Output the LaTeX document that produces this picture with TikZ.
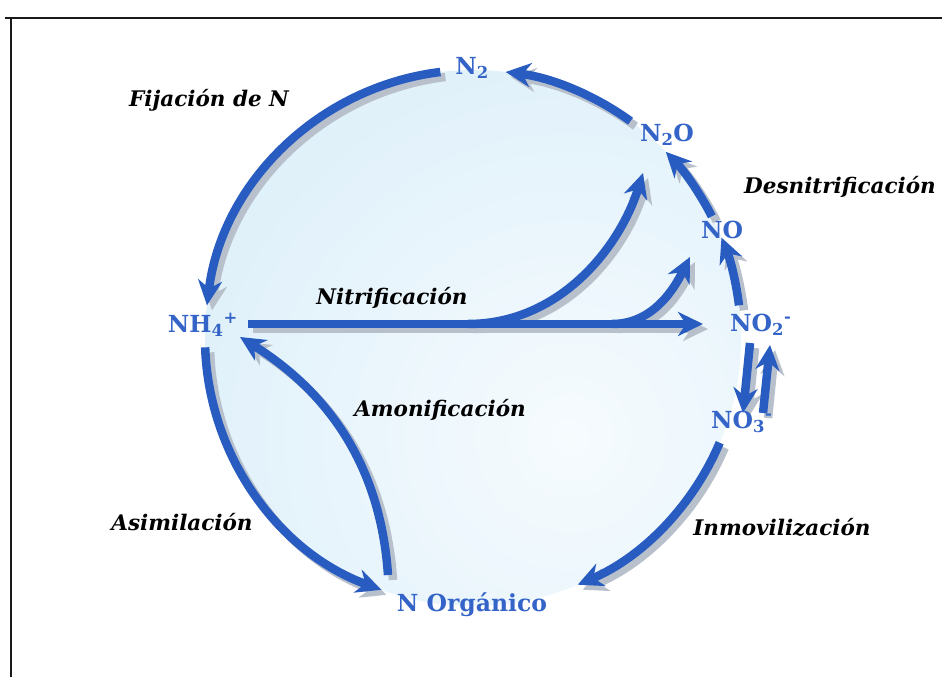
\documentclass[tikz,border=0pt]{standalone}
\usepackage{fontspec}
\setmainfont{DejaVu Serif}
\usetikzlibrary{arrows.meta}
\definecolor{arrblue}{RGB}{40,92,192}
\definecolor{txtblue}{RGB}{52,100,200}
\definecolor{shadowgray}{RGB}{184,192,204}
\definecolor{disklight}{RGB}{246,251,254}
\definecolor{diskedge}{RGB}{200,230,246}
\newcommand\cyclearc[3]{%
  \draw[shad] ([shift={(5,-5)}]#1) arc[start angle=#2,end angle=#3,radius=268];
  \draw[flow] (#1) arc[start angle=#2,end angle=#3,radius=268];}
\begin{document}
\begin{tikzpicture}[x=1pt,y=1pt,
  flow/.style={line width=8.5pt, draw=arrblue, -{Stealth[length=25pt,width=24pt,inset=8pt]}},
  shad/.style={line width=8.5pt, draw=shadowgray, -{Stealth[length=25pt,width=24pt,inset=8pt]}},
  chem/.style={text=txtblue, font=\fontsize{23.5}{26}\selectfont\bfseries, inner sep=1pt},
  proc/.style={text=black, font=\fontsize{21.5}{24}\selectfont\bfseries\itshape, inner sep=1pt},
  frame/.style={line width=2.8pt, draw=black!90}]
\useasboundingbox (0,0) rectangle (942,677);
\fill[white] (0,0) rectangle (942,677);
% frame
\draw[frame] (5,659) -- (942,659);
\draw[frame] (11,659) -- (11,0);
% disk
\coordinate (C) at (473,339);
\begin{scope}
  \clip (C) circle (268);
  \shade[inner color=disklight, outer color=diskedge] (570,240) circle (800);
\end{scope}
% arc coordinates
\coordinate (a1) at ([shift={(54:268)}]C);
\coordinate (a2) at ([shift={(97:268)}]C);
\coordinate (a3) at ([shift={(182:268)}]C);
\coordinate (a4) at ([shift={(337:268)}]C);
\coordinate (a5) at ([shift={(7:268)}]C);
\coordinate (a6) at ([shift={(27:268)}]C);
% cycle arcs
\cyclearc{a1}{54}{83}
\cyclearc{a2}{97}{173}
\cyclearc{a3}{182}{250}
\cyclearc{a4}{337}{293}
\cyclearc{a5}{7}{22}
\cyclearc{a6}{27}{44}
% nitrification
\coordinate (nitS) at (248,353);
\coordinate (nitE) at (703,353);
\coordinate (b1s) at (468,353);
\coordinate (b1e) at (643,504);
\coordinate (b2s) at (612,353);
\coordinate (b2e) at (690,420);
\draw[shad] ([shift={(5,-5)}]nitS) -- ([shift={(5,-5)}]nitE);
\draw[shad] ([shift={(5,-5)}]b1s) .. controls ([shift={(5,-5)}]560,353) and ([shift={(5,-5)}]620,430) .. ([shift={(5,-5)}]b1e);
\draw[shad] ([shift={(5,-5)}]b2s) .. controls ([shift={(5,-5)}]655,353) and ([shift={(5,-5)}]676,392) .. ([shift={(5,-5)}]b2e);
\draw[flow] (nitS) -- (nitE);
\draw[flow] (b1s) .. controls (560,353) and (620,430) .. (b1e);
\draw[flow] (b2s) .. controls (655,353) and (676,392) .. (b2e);
% ammonification
\coordinate (amS) at (388,102);
\coordinate (amE) at (240,340);
\draw[shad] ([shift={(5,-5)}]amS) .. controls ([shift={(5,-5)}]380,220) and ([shift={(5,-5)}]320,290) .. ([shift={(5,-5)}]amE);
\draw[flow] (amS) .. controls (380,220) and (320,290) .. (amE);
% NO2 <-> NO3
\coordinate (d1s) at (750,334);
\coordinate (d1e) at (743,264);
\coordinate (u1s) at (763,264);
\coordinate (u1e) at (770,332);
\draw[shad] ([shift={(5,-5)}]d1s) -- ([shift={(5,-5)}]d1e);
\draw[shad] ([shift={(5,-5)}]u1s) -- ([shift={(5,-5)}]u1e);
\draw[flow] (d1s) -- (d1e);
\draw[flow] (u1s) -- (u1e);
% chemical nodes
\node[chem] (n2) at (472,609) {N\textsubscript{2}};
\node[chem] (n2o) at (667,542) {N\textsubscript{2}O};
\node[chem] (no) at (722,447) {NO};
\node[chem, anchor=west] (no2) at (729,352) {NO\textsubscript{2}\textsuperscript{-}};
\node[chem, anchor=west] (no3) at (710,255) {NO\textsubscript{3}\textsuperscript{-}};
\node[chem, anchor=east] (nh4) at (239,352) {NH\textsubscript{4}\textsuperscript{+}};
\node[chem] (norg) at (472,72) {N Orgánico};
% process labels
\node[proc] (fij) at (209,577) {Fijación de N};
\node[proc] (des) at (840,490) {Desnitrificación};
\node[proc] (nit) at (392,379) {Nitrificación};
\node[proc] (amo) at (440,267) {Amonificación};
\node[proc] (asi) at (182,155) {Asimilación};
\node[proc] (inm) at (782,150) {Inmovilización};
\end{tikzpicture}
\end{document}
